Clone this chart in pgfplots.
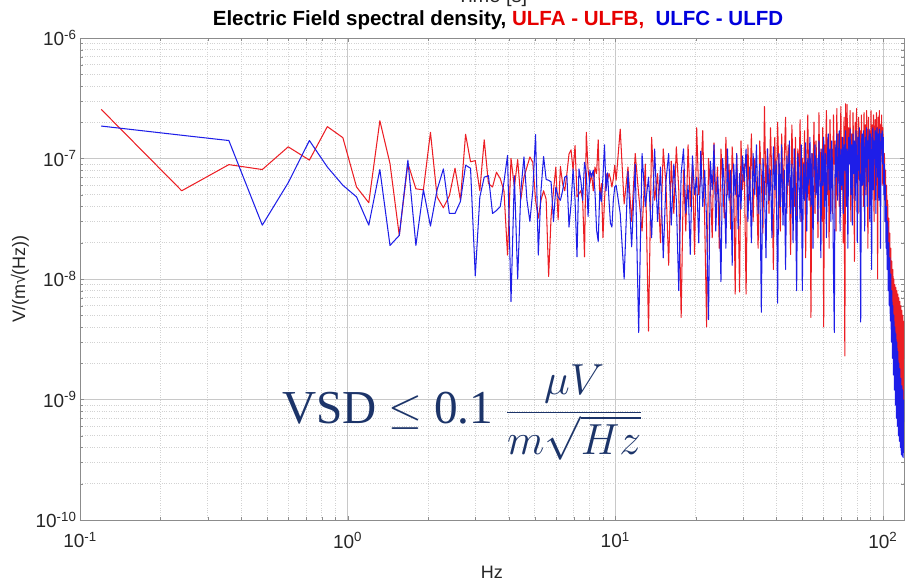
\documentclass[border=0pt]{standalone}
\usepackage{fontspec}
\setmainfont{Liberation Sans}
\newfontfamily\seriffont{Liberation Serif}
\usepackage{pgfplots}
\pgfplotsset{compat=1.18}
\usepackage{pgfplotstable}
\definecolor{lred}{RGB}{236,30,36}
\definecolor{lblue}{RGB}{30,30,232}
\definecolor{tred}{RGB}{230,0,0}
\definecolor{tblue}{RGB}{0,0,220}
\definecolor{navy}{RGB}{28,52,105}
\definecolor{gridmaj}{RGB}{200,200,200}
\definecolor{gridmin}{RGB}{210,210,210}

\pgfplotstableread{
f r b
0.12 2.56e-7 1.86e-7
0.24 5.4e-8 1.56e-7
0.36 8.9e-8 1.41e-7
0.48 8.1e-8 2.8e-8
0.60 1.25e-7 6.3e-8
0.72 9.7e-8 1.41e-7
0.84 1.84e-7 8.5e-8
0.96 1.49e-7 6.0e-8
1.08 5.8e-8 4.8e-8
1.20 4.3e-8 2.8e-8
1.32 2.06e-7 8.1e-8
1.44 9.1e-8 1.9e-8
1.56 2.3e-8 2.3e-8
1.68 9.1e-8 9.7e-8
1.80 5.6e-8 1.9e-8
1.92 5.5e-8 5.5e-8
2.04 1.65e-7 2.75e-8
2.16 4.8e-8 5.5e-8
2.28 3.9e-8 8.2e-8
2.40 4.9e-8 3.5e-8
2.52 8.3e-8 3.5e-8
2.64 4.5e-8 4.4e-8
2.76 1.59e-7 8.8e-8
2.88 9.4e-8 8.3e-8
3.00 9.6e-8 1.06e-8
3.12 5.4e-8 4.8e-8
3.24 1.43e-7 7.0e-8
3.36 6.2e-8 7.2e-8
3.48 5.8e-8 3.5e-8
3.60 7.7e-8 3.7e-8
3.72 6.8e-8 4.0e-8
3.84 5.4e-8 6.4e-8
3.96 1.58e-8 1.06e-7
4.08 1.0e-7 6.5e-9
4.20 5.8e-8 7.2e-8
4.32 9.8e-8 1.0e-8
4.44 4.6e-8 5.4e-8
4.56 7.0e-8 1.03e-7
4.68 8.5e-8 4.5e-8
4.80 1.03e-7 3.0e-8
4.92 9.3e-8 5.4e-8
5.04 4.5e-8 1.58e-7
5.16 3.2e-8 1.58e-8
5.28 4.5e-8 5.4e-8
5.40 5.4e-8 1.04e-7
5.52 4.6e-8 6.7e-8
5.64 1.05e-8 6.6e-8
5.76 3.3e-8 6.4e-8
5.88 5.4e-8 3.0e-8
6.00 8.5e-8 5.8e-8
6.12 3.1e-8 4.8e-8
6.24 8.6e-8 4.5e-8
6.36 6.2e-8 5.4e-8
6.48 5.4e-8 7.0e-8
6.60 7.5e-8 7.2e-8
6.72 1.09e-7 2.7e-8
6.84 1.18e-7 4.2e-8
6.96 8.0e-8 8.2e-8
7.08 1.28e-7 4.5e-8
7.20 4.8e-8 1.53e-8
7.32 5.1e-8 8.2e-8
7.44 5.4e-8 6.6e-8
7.56 4.5e-8 4.5e-8
7.68 1.53e-8 9.3e-8
7.80 1.65e-7 7.5e-8
7.92 8.0e-8 3.3e-8
8.04 6.2e-8 8.0e-8
8.16 7.5e-8 7.0e-8
8.28 5.4e-8 8.0e-8
8.40 8.5e-8 5.4e-8
8.52 7.5e-8 2.55e-8
8.64 1.43e-7 2.05e-8
8.76 4.5e-8 5.4e-8
8.88 6.2e-8 4.4e-8
9.00 2.2e-8 7.0e-8
9.12 4.5e-8 1.3e-7
9.24 7.5e-8 5.4e-8
9.36 6.6e-8 7.6e-8
9.48 7.5e-8 4.5e-8
9.60 6.8e-8 2.9e-8
9.72 5.8e-8 2.7e-8
9.84 6.8e-8 4.5e-8
9.96 8.8e-8 5.8e-8
10.08 6.6e-8 6.0e-8
10.44 1.75e-7 3.5e-8
10.80 4.2e-8 1.0e-8
11.16 8.5e-8 7.8e-8
11.52 3.0e-8 1.85e-8
11.88 1.1e-7 9.0e-8
12.24 5.0e-8 3.6e-9
12.60 2.5e-8 1.1e-7
12.96 9.0e-8 4.0e-8
13.32 3.7e-9 7.0e-8
13.68 1.5e-7 2.2e-8
14.04 4.5e-8 1.2e-7
14.40 7.5e-8 3.0e-8
14.76 2.0e-8 8.5e-8
15.12 1.2e-7 1.5e-8
15.48 6.0e-8 6.5e-8
15.84 1.3e-8 1.1e-7
16.20 9.5e-8 2.8e-8
16.56 3.5e-8 9.0e-8
16.92 1.25e-7 4.5e-8
17.28 5.5e-8 8.0e-9
17.64 4.8e-9 7.5e-8
18.00 8.0e-8 1.2e-7
18.36 2.5e-8 3.5e-8
18.72 1.3e-7 6.0e-8
19.08 4.0e-8 1.6e-8
19.44 9.0e-8 1.05e-7
19.80 1.6e-8 5.0e-8
20.16 1.8e-7 7.0e-8
20.52 5.0e-8 2.0e-8
20.88 7.0e-8 1.15e-7
21.24 1.7e-7 4.0e-8
21.60 3.0e-8 8.0e-8
21.96 4.0e-9 3.0e-8
22.32 1.0e-7 4.6e-9
22.68 6.0e-8 9.5e-8
23.04 2.2e-8 5.5e-8
23.40 1.35e-7 1.3e-7
23.76 4.5e-8 2.5e-8
24.12 8.5e-8 7.0e-8
24.48 1.8e-8 4.0e-8
24.84 1.2e-7 9.5e-9
25.20 6.5e-8 1.0e-7
25.56 3.2e-8 6.0e-8
25.92 1.5e-7 1.8e-8
26.28 5.0e-8 1.2e-7
26.64 9.0e-8 4.5e-8
27.00 2.6e-8 8.0e-8
27.36 1.25e-7 1.3e-8
27.72 7.0e-8 9.0e-8
28.08 7.5e-9 5.0e-8
28.44 1.1e-7 1.1e-7
28.80 4.0e-8 2.6e-8
29.16 7.8e-9 7.5e-8
29.52 1.4e-7 3.8e-8
29.88 5.5e-8 1.05e-7
30.36 9.0e-8 6.5e-8
30.84 7.5e-9 1.2e-7
31.32 1.3e-7 3.0e-8
31.80 4.5e-8 8.5e-8
32.28 1.6e-7 2.0e-8
32.76 3.0e-8 1.1e-7
33.24 1.0e-7 5.0e-8
33.72 6.0e-8 1.3e-7
34.20 1.8e-8 3.5e-8
34.68 1.4e-7 9.0e-8
35.16 7.0e-8 5.3e-9
35.64 2.4e-8 1.0e-7
36.12 2.7e-7 6.0e-8
36.60 5.0e-8 1.5e-8
37.08 1.2e-7 1.2e-7
37.56 3.5e-8 4.5e-8
38.04 1.8e-7 8.0e-8
38.52 6.5e-8 2.2e-8
39.00 1.2e-8 1.25e-7
39.48 1.5e-7 5.5e-8
39.96 4.0e-8 9.5e-8
40.44 2.0e-7 6.3e-9
40.92 7.5e-8 1.1e-7
41.40 2.5e-8 4.0e-8
41.88 1.6e-7 1.3e-7
42.36 5.5e-8 2.8e-8
42.84 1.0e-7 8.0e-8
43.32 2.2e-7 1.2e-8
43.80 3.5e-8 1.05e-7
44.28 1.3e-7 6.0e-8
44.76 6.0e-8 1.4e-7
45.24 1.6e-8 3.5e-8
45.72 1.9e-7 9.0e-8
46.20 8.0e-8 2.0e-8
46.68 4.0e-8 1.2e-7
47.16 1.5e-7 5.0e-8
47.64 2.0e-8 8.0e-9
48.12 1.2e-7 1.1e-7
48.60 6.5e-8 7.0e-8
49.08 2.1e-7 3.0e-8
49.56 3.0e-8 1.3e-7
50.04 1.0e-7 8.0e-9
50.52 5.0e-8 9.0e-8
51.00 1.7e-7 4.5e-8
51.48 1.5e-8 1.35e-7
51.96 9.0e-8 2.5e-8
52.44 2.3e-7 1.0e-7
52.92 4.5e-8 6.0e-8
53.40 1.3e-7 1.5e-7
53.88 4.8e-9 4.0e-8
54.36 1.1e-7 1.1e-7
54.84 7.0e-8 1.8e-8
55.32 2.0e-7 8.5e-8
55.80 3.5e-8 1.3e-7
56.28 1.4e-7 5.0e-8
56.76 8.0e-8 1.0e-7
57.24 2.2e-8 3.0e-8
57.72 2.4e-7 1.4e-7
58.20 6.0e-8 7.0e-8
58.68 1.2e-7 1.5e-8
59.16 3.0e-8 1.2e-7
59.64 1.8e-7 6.0e-8
60.12 4.0e-9 1.5e-7
60.60 1.3e-7 4.0e-8
61.08 9.0e-8 1.1e-7
61.56 2.5e-7 2.2e-8
62.04 5.0e-8 9.5e-8
62.52 1.5e-7 1.6e-7
63.00 1.8e-8 5.5e-8
63.48 2.1e-7 1.2e-7
63.96 7.5e-8 3.0e-8
64.44 1.2e-7 1.4e-7
64.92 3.5e-8 8.0e-8
65.40 2.3e-7 1.2e-8
65.88 9.0e-8 3.6e-9
66.36 1.4e-7 1.3e-7
66.84 2.5e-8 7.0e-8
67.32 2.6e-7 1.6e-7
67.80 6.5e-8 4.5e-8
68.28 1.6e-7 1.0e-7
68.76 4.0e-8 1.7e-7
69.24 1.1e-7 2.5e-8
69.72 2.7e-7 1.2e-7
70.20 5.5e-8 6.0e-8
70.68 1.5e-7 1.5e-7
71.16 2.0e-8 3.5e-8
71.64 2.2e-7 1.3e-7
72.12 2.3e-9 8.0e-8
72.60 2.85e-7 1.7e-7
73.08 8.0e-8 4.0e-8
73.56 2.8e-7 1.2e-7
74.04 4.5e-8 1.8e-8
74.52 1.8e-7 1.5e-7
75.00 1.2e-7 9.0e-8
75.48 2.5e-7 1.75e-7
75.96 3.0e-8 5.0e-8
76.44 1.6e-7 1.3e-7
76.92 7.0e-8 2.8e-8
77.40 2.4e-7 1.6e-7
77.88 1.0e-7 7.5e-8
78.36 1.4e-8 1.4e-7
78.84 2.0e-7 4.5e-8
79.32 6.0e-8 1.7e-7
79.80 2.6e-7 1.0e-7
80.28 1.2e-7 2.0e-8
80.76 3.5e-8 1.5e-7
81.24 2.2e-7 8.0e-8
81.72 8.0e-8 1.8e-7
82.20 1.7e-7 3.5e-8
82.68 2.5e-8 4.4e-9
83.16 2.3e-7 1.3e-7
83.64 9.0e-8 1.6e-7
84.12 1.5e-7 6.0e-8
84.60 4.0e-8 1.7e-7
85.08 2.4e-7 1.1e-7
85.56 1.1e-7 2.5e-8
86.04 1.9e-7 1.5e-7
86.52 5.0e-8 8.5e-8
87.00 2.5e-7 1.8e-7
87.48 1.3e-7 4.0e-8
87.96 1.8e-8 1.4e-7
88.44 2.2e-7 1.0e-7
88.92 7.0e-8 1.75e-7
89.40 1.7e-7 3.0e-8
89.88 1.0e-7 1.6e-7
90.36 2.5e-7 9.0e-8
90.84 4.5e-8 1.2e-8
91.32 1.9e-7 1.5e-7
91.80 1.2e-7 1.8e-7
92.28 2.3e-7 5.5e-8
92.76 3.0e-8 1.4e-7
93.24 1.6e-7 1.0e-7
93.72 2.1e-7 1.7e-7
94.20 6.0e-8 3.5e-8
94.68 2.4e-7 1.5e-7
95.16 1.3e-7 1.8e-7
95.64 1.0e-8 7.0e-8
96.12 2.2e-7 1.6e-7
96.60 1.5e-7 4.5e-8
97.08 2.5e-7 1.75e-7
97.56 8.0e-8 1.2e-7
98.04 1.9e-7 1.8e-8
98.52 1.1e-7 1.6e-7
99.00 2.3e-7 1.4e-7
99.48 6.0e-8 1.7e-7
99.96 1.8e-7 9.0e-8
100.44 1.3e-7 1.5e-7
100.92 6.0e-8 5.0e-8
101.40 1.1e-7 9.0e-8
101.88 4.5e-8 3.0e-8
102.36 8.0e-8 6.0e-8
102.84 3.0e-8 1.8e-8
103.32 6.0e-8 4.0e-8
103.80 2.5e-8 1.2e-8
104.28 4.5e-8 3.0e-8
104.76 1.6e-8 8.0e-9
105.24 3.2e-8 2.0e-8
105.72 1.3e-8 6.0e-9
106.20 2.4e-8 1.5e-8
106.68 9.0e-9 4.5e-9
107.16 1.8e-8 1.1e-8
107.64 7.0e-9 3.0e-9
108.12 1.4e-8 8.0e-9
108.60 5.0e-9 2.2e-9
109.08 1.2e-8 6.0e-9
109.56 4.0e-9 1.6e-9
110.04 1.0e-8 5.0e-9
110.52 3.0e-9 1.2e-9
111.00 9.0e-9 4.0e-9
111.48 2.5e-9 9.0e-10
111.96 8.5e-9 3.5e-9
112.44 2.0e-9 7.0e-10
112.92 8.0e-9 3.0e-9
113.40 1.8e-9 6.0e-10
113.88 7.5e-9 2.5e-9
114.36 1.5e-9 5.0e-10
114.84 7.0e-9 2.0e-9
115.32 1.2e-9 4.5e-10
115.80 6.5e-9 1.8e-9
116.28 1.0e-9 4.0e-10
116.76 6.0e-9 1.5e-9
117.24 9.0e-10 3.5e-10
117.72 5.5e-9 1.3e-9
118.20 8.0e-10 3.4e-10
118.68 5.0e-9 1.2e-9
119.16 7.0e-10 3.3e-10
119.64 4.5e-9 1.0e-9
}\data

\begin{document}
\begin{tikzpicture}
\begin{axis}[
  name=ax, at={(0,0)}, anchor=south west,
  xmode=log, ymode=log,
  scale only axis, width=824pt, height=482pt,
  xmin=0.1, xmax=120, ymin=1e-10, ymax=1e-6,
  xtick={0.1,1,10,100},
  xticklabels={10\textsuperscript{-1},10\textsuperscript{0},10\textsuperscript{1},10\textsuperscript{2}},
  ytick={1e-10,1e-9,1e-8,1e-7,1e-6},
  yticklabels={10\textsuperscript{-10},10\textsuperscript{-9},10\textsuperscript{-8},10\textsuperscript{-7},10\textsuperscript{-6}},
  ticklabel style={font=\fontsize{19}{19}\selectfont, text=black!85},
  xticklabel style={yshift=-9pt},
  grid=both,
  major grid style={gridmaj, line width=0.6pt},
  minor grid style={gridmin, dotted, line width=0.6pt},
  axis line style={black!45, line width=0.6pt},
  tick style={black!45},
  tick align=inside,
  xlabel={Hz}, ylabel={V/(m√(Hz))},
  label style={font=\fontsize{18}{18}\selectfont, text=black!85},
  xlabel style={yshift=-11pt},
  every axis plot/.append style={line join=round},
]
\addplot[lred, line width=1.05pt] table[x=f,y=r]{\data};
\addplot[lblue, line width=1.05pt] table[x=f,y=b]{\data};
\node[anchor=base west, text=navy, inner sep=0pt, scale=1.75] at (rel axis cs:0.245,0.20)
  {\fontsize{27}{27}\selectfont\seriffont VSD {\fontsize{24.88}{24.88}\selectfont$\leq$} 0.1\ {\fontsize{24.88}{24.88}\selectfont$\displaystyle\frac{\mu V}{m\sqrt{Hz}}$}};
\end{axis}
\node[anchor=base, font=\fontsize{20.5}{20.5}\selectfont\bfseries] at ([xshift=6pt,yshift=12pt]ax.north)
  {Electric Field spectral density, \textcolor{tred}{ULFA - ULFB,}\ \ \textcolor{tblue}{ULFC - ULFD}};
\node[anchor=base, font=\fontsize{20}{20}\selectfont, text=black!85] at ([yshift=35pt]ax.north) {Time [s]};
\pgfresetboundingbox
\path[use as bounding box] ([xshift=-80pt,yshift=-65pt]ax.south west) rectangle ([xshift=3pt,yshift=38pt]ax.north east);
\end{tikzpicture}
\end{document}
